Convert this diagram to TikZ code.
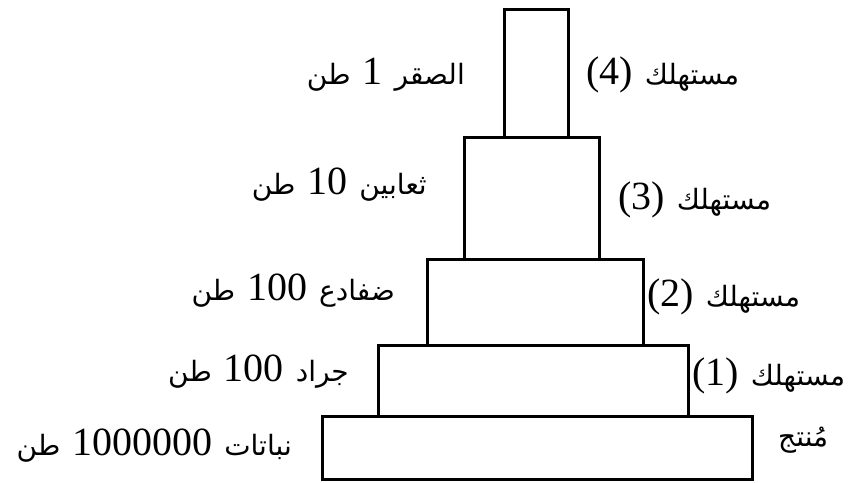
\documentclass[tikz,border=0pt]{standalone}
\usepackage{fontspec}
\TeXXeTstate=1
\newfontfamily\arabicfont[Script=Arabic]{DejaVu Sans}
\newfontfamily\numfont{Liberation Serif}
\newcommand{\ar}[1]{{\arabicfont\fontsize{28}{32}\selectfont #1}}
\newcommand{\nm}[1]{{\numfont\fontsize{40}{44}\selectfont\beginL #1\endL}}
\newcommand{\gp}{\hspace{12pt}}
\newcommand{\leftlab}[3]{\beginR\ar{#1}\gp\nm{#2}\gp\ar{#3}\endR}
\newcommand{\rightlab}[1]{\beginR\ar{مستهلك}\gp\nm{(#1)}\endR}
\begin{document}
\begin{tikzpicture}[x=1pt,y=-1pt,
  tier/.style={draw=black,line width=3pt,line join=miter},
  lbl/.style={inner sep=0pt}]
\useasboundingbox (0,0) rectangle (854,482);
\fill[white] (0,0) rectangle (854,482);
% tiers
\draw[tier] (322,416) rectangle (752,479);
\draw[tier] (378,345) rectangle (688,416);
\draw[tier] (427,259) rectangle (643,345);
\draw[tier] (464,137) rectangle (599,259);
\draw[tier] (504,9) rectangle (568,137);
% left labels
\node[lbl,anchor=east] (l4) at (465,75) {\leftlab{الصقر}{1}{طن}};
\node[lbl,anchor=east] (l3) at (427,185) {\leftlab{ثعابين}{10}{طن}};
\node[lbl,anchor=east] (l2) at (395,291) {\leftlab{ضفادع}{100}{طن}};
\node[lbl,anchor=east] (l1) at (349,372) {\leftlab{جراد}{100}{طن}};
\node[lbl,anchor=east] (l0) at (292,446) {\leftlab{نباتات}{1000000}{طن}};
% right labels
\node[lbl,anchor=west] (r4) at (586,75) {\rightlab{4}};
\node[lbl,anchor=west] (r3) at (618,200) {\rightlab{3}};
\node[lbl,anchor=west] (r2) at (647,297) {\rightlab{2}};
\node[lbl,anchor=west] (r1) at (692,376) {\rightlab{1}};
\node[lbl,anchor=west] (r0) at (778,440) {\beginR\ar{مُنتج}\endR};
\end{tikzpicture}
\end{document}
